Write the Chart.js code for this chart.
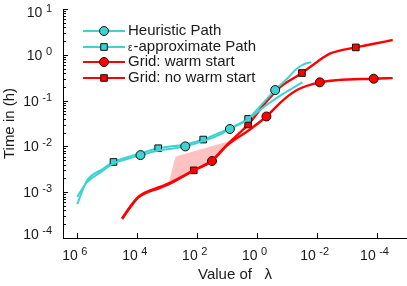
<!DOCTYPE html>
<html>
<head>
<meta charset="utf-8">
<script src="https://cdn.jsdelivr.net/npm/chart.js@4.4.0/dist/chart.umd.min.js"></script>
<style>
  html, body { margin: 0; padding: 0; background: #fff; }
  #wrap { width: 407px; height: 286px; }
</style>
</head>
<body>
<div id="wrap"><canvas id="timeChart" width="407" height="286"></canvas></div>
<script>
// values: lambda (x, reversed log axis), time in hours (y, log axis)
const heurLambda = [1e6, 4.9e5, 1.48e5, 6.2e4, 2.0e4, 7.8e3, 2.0e3, 250, 63, 20, 8.1, 2.0, 0.63, 0.25, 0.1, 0.047, 0.028, 0.0155];
const heurTime   = [7.9e-4, 1.62e-3, 2.88e-3, 4.27e-3, 5.37e-3, 6.46e-3, 8.13e-3, 1.0e-2, 1.32e-2, 1.74e-2, 2.4e-2, 3.98e-2, 8.9e-2, 0.17, 0.30, 0.50, 0.62, 0.69];
const heurMarks  = [7.8e3, 250, 8.1, 0.25];

const epsLambda = [1e6, 4.9e5, 1.48e5, 6.2e4, 2.0e4, 7.8e3, 2.0e3, 250, 63, 20, 8.1, 2.0, 0.5, 0.16, 0.063, 0.031];
const epsTime   = [5.5e-4, 1.74e-3, 3.16e-3, 4.57e-3, 5.89e-3, 7.08e-3, 9.12e-3, 1.10e-2, 1.41e-2, 1.91e-2, 2.51e-2, 3.98e-2, 7.9e-2, 0.132, 0.19, 0.25];
const epsMarks  = [6.2e4, 2.0e3, 63, 2.0];

const warmLambda = [3.2e4, 1.66e4, 8.9e3, 1.66e3, 780, 130, 32, 10, 2.0, 0.49, 0.16, 0.047, 8.1e-3, 2.1e-3, 1.29e-4, 3.0e-5];
const warmTime   = [2.6e-4, 4.8e-4, 7.8e-4, 1.26e-3, 1.55e-3, 3.0e-3, 4.8e-3, 1.05e-2, 2.2e-2, 4.5e-2, 9.3e-2, 0.17, 0.25, 0.28, 0.30, 0.31];
const warmMarks  = [32, 0.49, 8.1e-3, 1.29e-4];

const coldLambda = [3.2e4, 1.66e4, 8.9e3, 1.66e3, 780, 130, 32, 10, 2.0, 0.49, 0.166, 0.032, 0.01, 3.6e-3, 5.1e-4, 1.26e-4, 3.0e-5];
const coldTime   = [2.7e-4, 5.0e-4, 8.1e-4, 1.32e-3, 1.62e-3, 3.0e-3, 5.0e-3, 1.1e-2, 3.0e-2, 9.5e-2, 0.20, 0.40, 0.70, 1.07, 1.45, 1.74, 2.1];
const coldMarks  = [130, 2.0, 0.032, 5.1e-4];

// shaded spread region (outline, upper edge then back along the red curve)
const bandLambda = [890, 525, 10, 4.0, 4.0, 10, 32, 130, 780];
const bandTime   = [1.6e-3, 6.0e-3, 1.26e-2, 1.74e-2, 1.6e-2, 1.05e-2, 4.8e-3, 3.0e-3, 1.55e-3];

const xTickExps = [6, 4, 2, 0, -2, -4];
const yTickExps = [1, 0, -1, -2, -3, -4];

const CYAN = "#3ed2d2";
const RED = "#ff0000";
const FONT = "'Liberation Sans', Arial, Helvetica, sans-serif";

const pts = (xs, ys) => xs.map((v, i) => ({ x: v, y: ys[i] }));
const markerRadius = (xs, marks, r) => ctx => marks.includes(xs[ctx.dataIndex]) ? r : 0;

function series(label, xs, ys, marks, color, style, r, width) {
  return {
    label,
    data: pts(xs, ys),
    borderColor: color,
    backgroundColor: color,
    borderWidth: width,
    cubicInterpolationMode: "monotone",
    pointStyle: style,
    pointRadius: markerRadius(xs, marks, r),
    pointBackgroundColor: color,
    pointBorderColor: "#111",
    pointBorderWidth: 1,
    fill: false,
    order: 1
  };
}

const legendItems = [
  { text: "Heuristic Path", color: CYAN, style: "circle" },
  { text: "-approximate Path", pre: "\u03b5", color: CYAN, style: "rect" },
  { text: "Grid: warm start", color: RED, style: "circle" },
  { text: "Grid: no warm start", color: RED, style: "rect" }
];

function drawMarker(ctx, style, cx, cy, color) {
  ctx.fillStyle = color;
  ctx.strokeStyle = "#111";
  ctx.lineWidth = 1;
  ctx.beginPath();
  if (style === "circle") ctx.arc(cx, cy, 4.5, 0, Math.PI * 2);
  else ctx.rect(cx - 3.3, cy - 3.3, 6.6, 6.6);
  ctx.fill();
  ctx.stroke();
}

function powerText(ctx, exp, x, baseline, align) {
  ctx.font = "14px " + FONT;
  const w10 = ctx.measureText("10").width;
  ctx.font = "11px " + FONT;
  const e = String(exp);
  const we = ctx.measureText(e).width;
  const gap = 3.5;
  const total = w10 + gap + we;
  const left = align === "right" ? x - total : x - total / 2;
  ctx.textAlign = "left";
  ctx.textBaseline = "alphabetic";
  ctx.font = "14px " + FONT;
  ctx.fillText("10", left, baseline);
  ctx.font = "11px " + FONT;
  ctx.fillText(e, left + w10 + gap, baseline - 5);
}

const axesPlugin = {
  id: "axesPlugin",
  afterDraw(chart) {
    const { ctx, chartArea: a, scales: { x, y } } = chart;
    ctx.save();
    ctx.strokeStyle = "#000";
    ctx.lineWidth = 1;
    ctx.beginPath();
    ctx.moveTo(a.left + 0.5, a.top);
    ctx.lineTo(a.left + 0.5, a.bottom + 0.5);
    ctx.lineTo(a.right, a.bottom + 0.5);
    ctx.stroke();

    // y ticks (major + minor, pointing inward)
    ctx.beginPath();
    yTickExps.forEach(p => {
      const py = Math.round(y.getPixelForValue(Math.pow(10, p))) + 0.5;
      ctx.moveTo(a.left, py); ctx.lineTo(a.left + 5, py);
      if (p > -4) {
        for (let m = 2; m <= 9; m++) {
          const my = Math.round(y.getPixelForValue(m * Math.pow(10, p - 1))) + 0.5;
          ctx.moveTo(a.left, my); ctx.lineTo(a.left + 3, my);
        }
      }
    });
    xTickExps.forEach(p => {
      const px = Math.round(x.getPixelForValue(Math.pow(10, p))) + 0.5;
      ctx.moveTo(px, a.bottom); ctx.lineTo(px, a.bottom - 5);
    });
    ctx.stroke();

    ctx.fillStyle = "#1a1a1a";
    yTickExps.forEach(p => {
      let cy = y.getPixelForValue(Math.pow(10, p));
      cy = Math.min(Math.max(cy, 12), 234);
      powerText(ctx, p, 52, cy + 5, "right");
    });
    xTickExps.forEach(p => {
      const cx = x.getPixelForValue(Math.pow(10, p));
      powerText(ctx, p, cx - 2.5, 260, "center");
    });

    // axis titles
    ctx.font = "15px " + FONT;
    ctx.textAlign = "center";
    ctx.textBaseline = "middle";
    ctx.fillText("Value of   \u03bb", (a.left + a.right) / 2, 275);
    ctx.save();
    ctx.translate(10, (a.top + a.bottom) / 2);
    ctx.rotate(-Math.PI / 2);
    ctx.fillText("Time in (h)", 0, 0);
    ctx.restore();

    // legend
    const rows = [31, 47, 62, 78];
    legendItems.forEach((it, i) => {
      const ly = rows[i];
      ctx.strokeStyle = it.color;
      ctx.lineWidth = 2;
      ctx.beginPath();
      ctx.moveTo(83, ly); ctx.lineTo(125, ly);
      ctx.stroke();
      drawMarker(ctx, it.style, 104, ly, it.color);
      ctx.fillStyle = "#1a1a1a";
      ctx.textAlign = "left";
      ctx.textBaseline = "middle";
      let tx = 128;
      if (it.pre) {
        ctx.font = "10px " + FONT;
        ctx.fillText(it.pre, tx, ly + 1);
        tx += ctx.measureText(it.pre).width + 1;
      }
      ctx.font = "15px " + FONT;
      ctx.fillText(it.text, tx, ly);
    });
    ctx.restore();
  }
};

new Chart(document.getElementById("timeChart"), {
  type: "line",
  data: {
    datasets: [
      series("Heuristic Path", heurLambda, heurTime, heurMarks, CYAN, "circle", 4.5, 2),
      series("\u03b5-approximate Path", epsLambda, epsTime, epsMarks, CYAN, "rect", 4.7, 2),
      series("Grid: warm start", warmLambda, warmTime, warmMarks, RED, "circle", 4.5, 2.4),
      series("Grid: no warm start", coldLambda, coldTime, coldMarks, RED, "rect", 4.7, 2.4),
      {
        label: "spread",
        data: pts(bandLambda, bandTime),
        borderWidth: 0,
        borderColor: "rgba(0,0,0,0)",
        backgroundColor: "rgba(255,120,120,0.45)",
        pointRadius: 0,
        tension: 0,
        fill: "shape",
        order: 5
      }
    ]
  },
  options: {
    responsive: false,
    devicePixelRatio: 1,
    animation: false,
    layout: { padding: { left: 63, right: 0, top: 9, bottom: 48 } },
    plugins: { legend: { display: false }, tooltip: { enabled: false } },
    scales: {
      x: { type: "logarithmic", reverse: true, min: 1e-5, max: 3e6, display: false },
      y: { type: "logarithmic", min: 1e-4, max: 10, display: false }
    }
  },
  plugins: [axesPlugin]
});
</script>
</body>
</html>
